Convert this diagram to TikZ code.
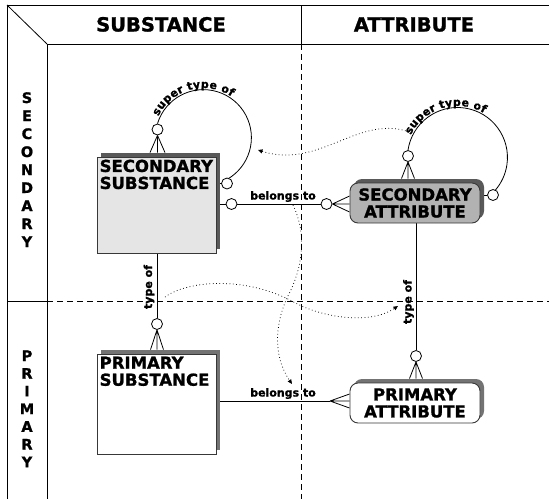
\documentclass[tikz,border=0pt]{standalone}
\usepackage{fontspec}
\setmainfont{DejaVu Sans}[BoldFeatures={FakeBold=1.2}]
\usetikzlibrary{arrows.meta,calc,shadows,decorations.text}
\pgfdeclarelayer{back}
\pgfsetlayers{back,main}

\definecolor{ssfill}{gray}{0.90}
\definecolor{safill}{gray}{0.70}
\definecolor{shadowdark}{gray}{0.35}
\definecolor{shadowmid}{gray}{0.45}
\definecolor{edgecol}{gray}{0.22}

\newcommand\boxfont{\bfseries\fontsize{16.5}{17}\selectfont}
\newcommand\relfont{\bfseries\fontsize{11}{13}\selectfont}
\newcommand\headfont{\bfseries\fontsize{19.5}{22}\selectfont}
\newcommand\rowfont{\bfseries\fontsize{14.5}{16}\selectfont}

% crow's feet: apex, middle end point, half spread
\newcommand\footV[3]{\draw[conn] (#1) -- ([xshift=-#3]#2) (#1) -- (#2) (#1) -- ([xshift=#3]#2);}
\newcommand\footH[3]{\draw[conn] (#1) -- ([yshift=-#3]#2) (#1) -- (#2) (#1) -- ([yshift=#3]#2);}

\tikzset{
  frameline/.style={line width=0.8pt},
  gridline/.style={line width=0.8pt, dash pattern=on 6pt off 4pt},
  conn/.style={line width=0.8pt},
  hint/.style={line width=0.75pt, dash pattern=on 0.75pt off 2.6pt,
    -{Triangle[length=4.5pt,width=4pt]}},
  ring/.style={circle, draw, fill=white, line width=0.8pt, minimum size=11pt, inner sep=0pt},
  entity/.style={rectangle, draw=edgecol, line width=0.8pt, inner sep=0pt},
  attrib/.style={rectangle, rounded corners=8pt, draw=edgecol, line width=0.9pt,
    align=center, inner sep=0pt, font=\boxfont},
  darkshade/.style={drop shadow={shadow xshift=4pt, shadow yshift=4pt, fill=shadowdark, opacity=1}},
  midshade/.style={drop shadow={shadow xshift=4pt, shadow yshift=4pt, fill=shadowmid, opacity=1}},
  boxlabel/.style={anchor=north west, inner sep=0pt, align=left, font=\boxfont},
  rel/.style={font=\relfont, inner sep=0pt},
  head/.style={font=\headfont, inner sep=0pt, anchor=base},
  rowletter/.style={font=\rowfont, inner sep=0pt, anchor=base},
  looptext/.style={decorate, decoration={text along path,
    text={|\relfont|super type of}, text align=center, raise=2pt}},
}

\begin{document}
\begin{tikzpicture}[x=1pt,y=-1pt]
\useasboundingbox (0,0) rectangle (549,499);

% column and row headings
\node[head] (hsub) at (161,31.5) {SUBSTANCE};
\node[head] (hatt) at (414,31.5) {ATTRIBUTE};
\foreach \l [count=\i] in {S,E,C,O,N,D,A,R,Y}
  \node[rowletter] (sec\i) at (27,85+18*\i) {\l};
\foreach \l [count=\i] in {P,R,I,M,A,R,Y}
  \node[rowletter] (pri\i) at (27,343.3+17.7*\i) {\l};

% entity boxes
\node[entity, fill=ssfill, darkshade, minimum width=119pt, minimum height=96pt] (ss) at (156.5,205) {};
\node[boxlabel] (sstext) at (99.5,159.5) {SECONDARY\\SUBSTANCE};
\node[entity, fill=white, midshade, minimum width=119pt, minimum height=100pt] (ps) at (156.5,404) {};
\node[boxlabel] (pstext) at (99.5,356.5) {PRIMARY\\SUBSTANCE};
\node[attrib, fill=safill, darkshade, minimum width=130pt, minimum height=40pt] (sa) at (415,203) {SECONDARY\\ATTRIBUTE};
\node[attrib, fill=white, midshade, minimum width=130pt, minimum height=40pt] (pa) at (415,403) {PRIMARY\\ATTRIBUTE};

% optionality rings
\node[ring] (c1) at (157.5,129.5) {};
\node[ring] (c2) at (227,183.5) {};
\node[ring] (c3) at (231.5,204) {};
\node[ring] (c4) at (326.5,204) {};
\node[ring] (c5) at (157,324) {};
\node[ring] (c6) at (408,156) {};
\node[ring] (c7) at (493,195) {};
\node[ring] (c8) at (416,356) {};

% relationship names
\node[rel, anchor=base] (lb1) at (283,199.5) {belongs to};
\node[rel, anchor=base] (lb2) at (283,396.5) {belongs to};
\node[rel, rotate=90, anchor=base] (lt1) at (152,287) {type of};
\node[rel, rotate=90, anchor=base] (lt2) at (411.5,302) {type of};

% anchor points for feet and hint arrows
\coordinate (fss) at ($(ss.north -| c1)+(0,-4)$);
\coordinate (fps) at ($(ps.north -| c5)+(0,-4)$);
\coordinate (fsa) at ($(sa.north -| c6)+(0,-4)$);
\coordinate (fpa) at ($(pa.north -| c8)+(0,-4)$);
\coordinate (fsb) at (sa.west |- c4);
\coordinate (pb) at (330,401);
\coordinate (fpb) at (pa.west |- pb);
\coordinate (ssloop) at (203.4,138);
\coordinate (saloop) at (457.45,157.9);
\coordinate (h1s) at (412,133);
\coordinate (h1e) at (258,150);
\coordinate (h2s) at (165,297);
\coordinate (h2e) at (398,306);
\coordinate (h3s) at (293,205);
\coordinate (h3e) at (292,384);

\begin{pgfonlayer}{back}
  % outer frame and quadrant grid
  \draw[frameline] (7,499) -- (7,5) -- (549,5);
  \draw[frameline] (7,5) -- (47,44);
  \draw[frameline] (47,44) -- (549,44);
  \draw[frameline] (47,44) -- (47,499);
  \draw[frameline] (301,5) -- (301,44);
  \draw[frameline] (7,301) -- (47,301);
  \draw[gridline] (301,44) -- (301,499);
  \draw[gridline] (47,301) -- (549,301);

  % hint arrows
  \draw[hint] (h1s) .. controls (360,112) and (320,170) .. (h1e);
  \draw[hint] (h2s) .. controls (185,282) and (240,275) .. (290,300)
                    .. controls (320,318) and (370,325) .. (h2e);
  \draw[hint] (h3s) .. controls (305,230) and (305,260) .. (290,292)
                    .. controls (275,320) and (272,355) .. (h3e);

  % recursive "super type of" loops
  \draw[conn] (c1.north) arc[start angle=197, end angle=420, radius=48];
  \path[looptext] ($(ssloop)+(185:48)$) arc[start angle=185, end angle=325, radius=48];
  \draw[conn] (c6.north) arc[start angle=188.5, end angle=401, radius=50];
  \path[looptext] ($(saloop)+(184:50)$) arc[start angle=184, end angle=323, radius=50];
  \footV{c1.south}{fss}{7.5pt}
  \footV{c6.south}{fsa}{6.5pt}
  \draw[conn] (ss.east |- c2) -- (c2.west);
  \draw[conn] (sa.east |- c7) -- (c7.west);

  % "type of" links
  \draw[conn] (ss.south -| c5) -- (c5.north);
  \footV{c5.south}{fps}{6.5pt}
  \draw[conn] (sa.south -| c8) -- (c8.north);
  \footV{c8.south}{fpa}{6.5pt}

  % "belongs to" links
  \draw[conn] (ss.east |- c3) -- (c3.west);
  \draw[conn] (c3.east) -- (c4.west);
  \footH{c4.east}{fsb}{8pt}
  \draw[conn] (ps.east |- pb) -- (pb);
  \footH{pb}{fpb}{7pt}
\end{pgfonlayer}
\end{tikzpicture}
\end{document}
